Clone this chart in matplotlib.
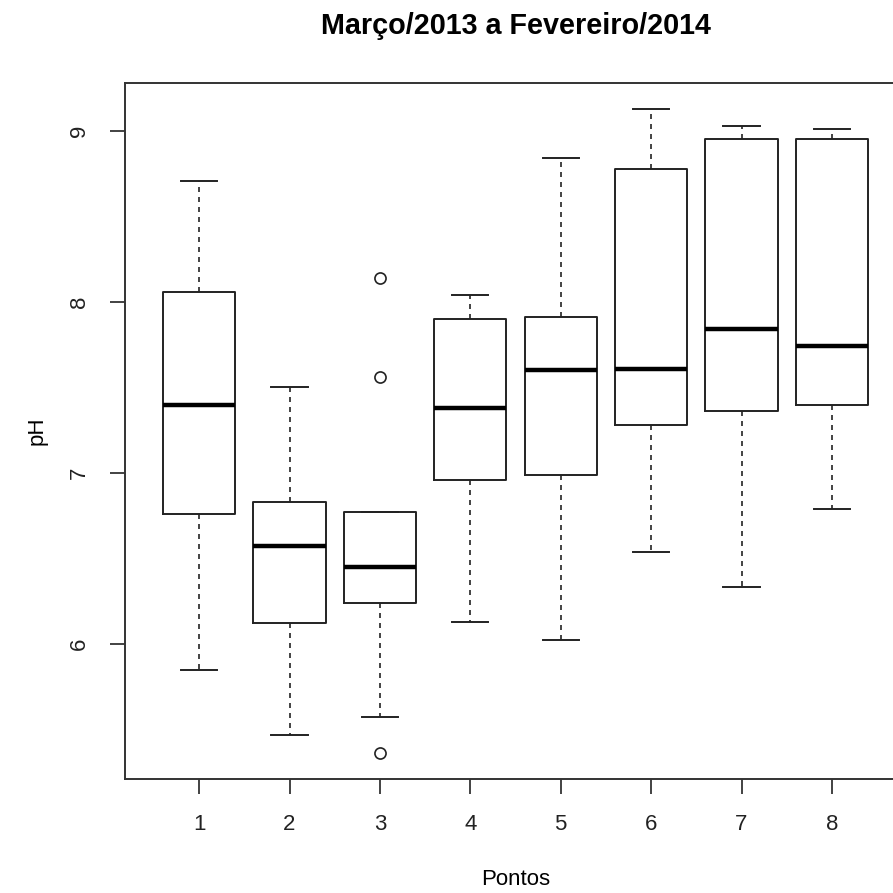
import matplotlib
matplotlib.use('Agg')
import matplotlib.pyplot as plt

plt.rcParams['font.family'] = ['Liberation Sans', 'DejaVu Sans']

pontos = ['1', '2', '3', '4', '5', '6', '7', '8']
whisker_low = [5.85, 5.47, 5.57, 6.13, 6.02, 6.54, 6.33, 6.79]
q1 = [6.76, 6.12, 6.24, 6.96, 6.99, 7.28, 7.36, 7.40]
median = [7.40, 6.57, 6.45, 7.38, 7.60, 7.61, 7.84, 7.74]
q3 = [8.06, 6.83, 6.77, 7.90, 7.91, 8.78, 8.95, 8.95]
whisker_high = [8.71, 7.50, 6.77, 8.04, 8.84, 9.13, 9.03, 9.01]
outliers = [[], [], [8.14, 7.56, 5.36], [], [], [], [], []]

stats = []
for i in range(len(pontos)):
    stats.append({'label': pontos[i], 'whislo': whisker_low[i], 'q1': q1[i],
                  'med': median[i], 'q3': q3[i], 'whishi': whisker_high[i],
                  'fliers': outliers[i]})

fig = plt.figure(figsize=(8.93, 8.93), dpi=100)
ax = fig.add_axes([0.140, 0.1277, 0.8746, 0.7793])

line = dict(color='#222222', linewidth=1.4)
ax.bxp(stats, positions=range(1, 9), widths=0.8, showfliers=True,
       boxprops=line,
       medianprops=dict(color='black', linewidth=3.2),
       whiskerprops=dict(color='#222222', linewidth=1.2, linestyle=(0, (3, 3))),
       capprops=line, capwidths=0.4,
       flierprops=dict(marker='o', markerfacecolor='none', markeredgecolor='#222222',
                       markersize=8, markeredgewidth=1.2))

ax.set_xlim(0.18, 8.82)
ax.set_ylim(5.21, 9.28)
ax.set_yticks([6, 7, 8, 9])
ax.set_yticklabels(['6', '7', '8', '9'], rotation=90, va='center')
ax.tick_params(axis='both', length=10.5, width=1.2, labelsize=16, colors='#222222', pad=15)
for s in ax.spines.values():
    s.set_linewidth(1.4)
    s.set_color('#333333')

ax.set_title('Março/2013 a Fevereiro/2014', fontsize=20.7, fontweight='bold', pad=35)
ax.set_xlabel('Pontos', fontsize=16, labelpad=24)
ax.set_ylabel('pH', fontsize=16, labelpad=15)

fig.savefig('out.png', dpi=100)
